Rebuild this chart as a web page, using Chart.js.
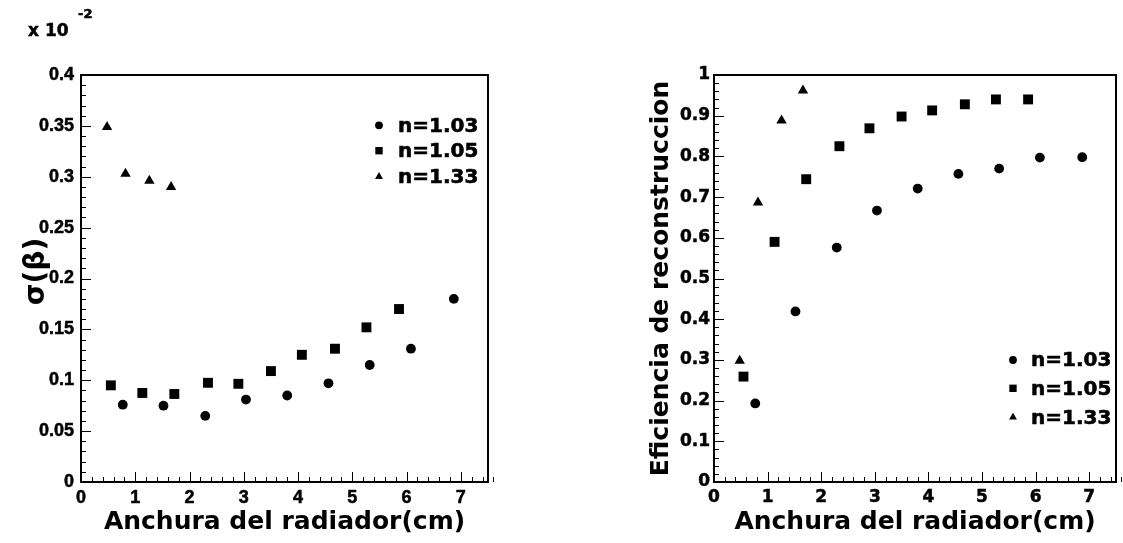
<!DOCTYPE html>
<html><head><meta charset="utf-8">
<script src="https://cdn.jsdelivr.net/npm/chart.js@4.4.1/dist/chart.umd.min.js"></script>
<style>
html,body{margin:0;padding:0;background:#fff;overflow:hidden;}
#wrap{position:relative;width:1123px;height:543px;background:#fff;}
canvas{position:absolute;top:0;}
#c1{left:0;} #c2{left:561px;}
</style></head><body>
<div id="wrap"><canvas id="c1" width="561" height="543"></canvas><canvas id="c2" width="562" height="543"></canvas></div>
<script>
// ---- data ----
const seriesLabels = ['n=1.03', 'n=1.05', 'n=1.33'];
const width103 = [0.77, 1.52, 2.29, 3.04, 3.80, 4.56, 5.32, 6.08, 6.87];
const width105 = [0.55, 1.13, 1.72, 2.34, 2.90, 3.50, 4.07, 4.68, 5.26, 5.86];
const width133 = [0.48, 0.82, 1.26, 1.66];
const sigma103 = [0.076, 0.075, 0.065, 0.081, 0.085, 0.097, 0.115, 0.131, 0.180];
const sigma105 = [0.095, 0.0875, 0.0865, 0.0975, 0.0965, 0.109, 0.125, 0.131, 0.152, 0.170];
const sigma133 = [0.349, 0.303, 0.296, 0.290];
const eff103 = [0.193, 0.419, 0.576, 0.667, 0.721, 0.757, 0.770, 0.797, 0.798];
const eff105 = [0.259, 0.590, 0.744, 0.825, 0.869, 0.898, 0.913, 0.928, 0.940, 0.940];
const eff133 = [0.298, 0.687, 0.888, 0.962];
const xTickValues = [0, 1, 2, 3, 4, 5, 6, 7];
const sigmaTickValues = [0, 0.05, 0.1, 0.15, 0.2, 0.25, 0.3, 0.35, 0.4];
const effTickValues = [0, 0.1, 0.2, 0.3, 0.4, 0.5, 0.6, 0.7, 0.8, 0.9, 1];
const xTitle = 'Anchura del radiador(cm)';
const sigmaTitle = '\u2002σ(β)';
const effTitle = 'Eficiencia de reconstruccion';
const exponentText = ['x 10', '-2'];

// ---- helpers ----
const pts = (xs, ys) => xs.map((x, i) => ({x: x, y: ys[i]}));
const styles = ['circle', 'rect', 'triangle'];
const radii = [4.9, 7.0, 6.0];

function drawMarker(ctx, style, x, y, r) {
  ctx.beginPath();
  if (style === 'circle') {
    ctx.arc(x, y, r, 0, Math.PI * 2);
  } else if (style === 'rect') {
    const s = Math.SQRT1_2 * r;
    ctx.rect(x - s, y - s, 2 * s, 2 * s);
  } else {
    let rad = 0;
    ctx.moveTo(x + Math.sin(rad) * r, y - Math.cos(rad) * r);
    rad += 2 * Math.PI / 3;
    ctx.lineTo(x + Math.sin(rad) * r, y - Math.cos(rad) * r);
    rad += 2 * Math.PI / 3;
    ctx.lineTo(x + Math.sin(rad) * r, y - Math.cos(rad) * r);
    ctx.closePath();
  }
  ctx.fill();
}

const rootFrame = {
  id: 'rootFrame',
  afterDatasetsDraw(chart, args, o) {
    const ctx = chart.ctx, ca = chart.chartArea;
    const xs = chart.scales.x, ys = chart.scales.y;
    ctx.save();
    ctx.strokeStyle = '#000';
    ctx.lineWidth = 1;
    const nx = Math.round((xs.max - xs.min) / o.xMinor);
    for (let i = 0; i <= nx; i++) {
      const v = xs.min + i * o.xMinor;
      const q = v / o.xMajor;
      const major = Math.abs(q - Math.round(q)) < 1e-6;
      const px = Math.round(xs.getPixelForValue(v)) + 0.5;
      ctx.beginPath();
      ctx.moveTo(px, ca.bottom);
      ctx.lineTo(px, ca.bottom - (major ? o.majorLen : o.minorLen));
      ctx.stroke();
    }
    const ny = Math.round((ys.max - ys.min) / o.yMinor);
    for (let i = 0; i <= ny; i++) {
      const v = ys.min + i * o.yMinor;
      const q = v / o.yMajor;
      const major = Math.abs(q - Math.round(q)) < 1e-6;
      const py = Math.round(ys.getPixelForValue(v)) + 0.5;
      ctx.beginPath();
      ctx.moveTo(ca.left, py);
      ctx.lineTo(ca.left + (major ? o.majorLen : o.minorLen), py);
      ctx.stroke();
    }
    ctx.lineWidth = 2;
    ctx.strokeRect(ca.left, ca.top, ca.right - ca.left, ca.bottom - ca.top);
    ctx.restore();
  }
};

const rootLegend = {
  id: 'rootLegend',
  afterDraw(chart, args, o) {
    if (!o || !o.rows) return;
    const ctx = chart.ctx;
    ctx.save();
    ctx.fillStyle = '#000';
    ctx.strokeStyle = '#000';
    ctx.lineWidth = 0.6;
    ctx.font = o.font;
    ctx.textBaseline = 'middle';
    ctx.textAlign = 'left';
    chart.data.datasets.forEach((ds, i) => {
      const y = o.rows[i];
      drawMarker(ctx, ds.pointStyle, o.markerX, y, o.radii[i]);
      ctx.fillText(ds.label, o.textX, y + o.textDy);
      ctx.strokeText(ds.label, o.textX, y + o.textDy);
    });
    ctx.restore();
  }
};

const rootText = {
  id: 'rootText',
  afterDraw(chart, args, o) {
    if (!o || !o.items) return;
    const ctx = chart.ctx;
    ctx.save();
    ctx.fillStyle = '#000';
    ctx.strokeStyle = '#000';
    ctx.lineWidth = 0.5;
    ctx.textBaseline = 'alphabetic';
    ctx.textAlign = 'left';
    o.items.forEach(it => {
      ctx.font = it.font;
      ctx.fillText(it.text, it.x, it.y);
      ctx.strokeText(it.text, it.x, it.y);
    });
    ctx.restore();
  }
};

function makeDatasets(ys) {
  return [
    {label: seriesLabels[0], data: pts(width103, ys[0])},
    {label: seriesLabels[1], data: pts(width105, ys[1])},
    {label: seriesLabels[2], data: pts(width133, ys[2])}
  ].map((d, i) => Object.assign(d, {
    pointStyle: styles[i], pointRadius: radii[i], pointHoverRadius: radii[i],
    backgroundColor: '#000', borderColor: '#000', borderWidth: 0, showLine: false
  }));
}

const fmt = v => String(parseFloat(Number(v).toFixed(3)));

function makeConfig(p) {
  return {
    type: 'scatter',
    data: {datasets: makeDatasets(p.ys)},
    plugins: [rootFrame, rootLegend, rootText],
    options: {
      responsive: false, animation: false, devicePixelRatio: 1,
      layout: {padding: {left: 0, top: 75, right: p.padRight, bottom: 0}},
      plugins: {
        legend: {display: false}, tooltip: {enabled: false},
        rootFrame: {xMinor: 0.2, xMajor: 1, yMinor: p.yMinor, yMajor: p.yMajor, majorLen: 10, minorLen: 5},
        rootLegend: p.legend,
        rootText: p.text || {}
      },
      scales: {
        x: {
          type: 'linear', min: 0, max: 7.5,
          afterBuildTicks: s => { s.ticks = xTickValues.map(v => ({value: v})); },
          afterFit: s => { s.height = 61; },
          grid: {display: false, drawTicks: false}, border: {display: false},
          ticks: {color: '#000', font: p.tickFont, padding: p.xTickPad, maxRotation: 0, autoSkip: false,
                  callback: fmt, textStrokeColor: '#000', textStrokeWidth: 0.5},
          title: {display: true, text: xTitle, color: '#000',
                  font: {family: 'DejaVu Sans', weight: 'bold', size: 25}, padding: {top: 0, bottom: 6}}
        },
        y: {
          type: 'linear', min: p.yMin, max: p.yMax,
          afterBuildTicks: s => { s.ticks = p.yTicks.map(v => ({value: v})); },
          afterFit: s => { s.width = p.yWidth; },
          grid: {display: false, drawTicks: false}, border: {display: false},
          ticks: {color: '#000', font: p.tickFont, padding: p.yTickPad, autoSkip: false,
                  callback: fmt, textStrokeColor: '#000', textStrokeWidth: 0.5},
          title: {display: true, text: p.yTitle, color: '#000',
                  font: {family: 'DejaVu Sans', weight: 'bold', size: p.yTitleSize}, padding: {top: p.yTitlePad, bottom: 0}}
        }
      }
    }
  };
}

new Chart(document.getElementById('c1'), makeConfig({
  ys: [sigma103, sigma105, sigma133],
  yMin: 0, yMax: 0.4, yTicks: sigmaTickValues, yMinor: 0.01, yMajor: 0.05,
  yWidth: 81, padRight: 73, yTitle: sigmaTitle, yTitlePad: 20, yTitleSize: 28,
  tickFont: {family: 'Liberation Sans', weight: 'bold', size: 18},
  xTickPad: 5, yTickPad: 7,
  legend: {markerX: 379, textX: 398, rows: [125.3, 150.7, 176.7], radii: [3.9, 5.2, 4.6],
           textDy: 1, font: 'bold 20px "DejaVu Sans"'},
  text: {items: [
    {text: exponentText[0], x: 28, y: 36, font: 'bold 17px "DejaVu Sans"'},
    {text: exponentText[1], x: 78, y: 18, font: 'bold 13px "DejaVu Sans"'}
  ]}
}));

new Chart(document.getElementById('c2'), makeConfig({
  ys: [eff103, eff105, eff133],
  yMin: 0, yMax: 1, yTicks: effTickValues, yMinor: 0.02, yMajor: 0.1,
  yWidth: 153, padRight: 2, yTitle: effTitle, yTitlePad: 85, yTitleSize: 25,
  tickFont: {family: 'DejaVu Sans', weight: 'bold', size: 17},
  xTickPad: 5, yTickPad: 4,
  legend: {markerX: 452, textX: 470, rows: [360, 388.3, 417.3], radii: [3.9, 5.2, 4.6],
           textDy: 1, font: 'bold 20px "DejaVu Sans"'}
}));
</script>
</body></html>
